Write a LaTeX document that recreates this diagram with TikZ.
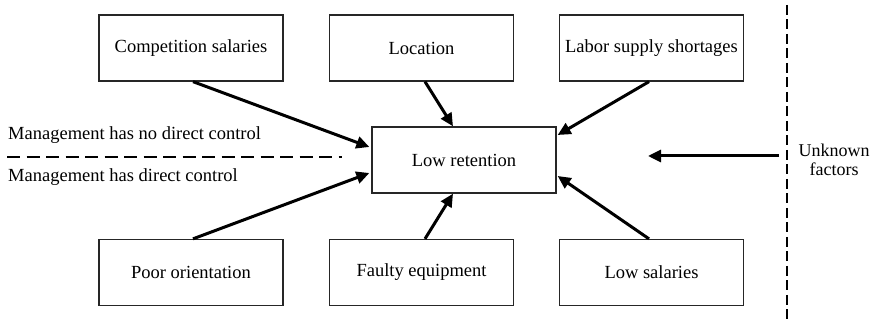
\documentclass[tikz,border=0pt]{standalone}
\usepackage{fontspec}
\setmainfont{Liberation Serif}
\usetikzlibrary{arrows.meta,calc}
\begin{document}
\begin{tikzpicture}[x=1pt,y=1pt,
  factor/.style={draw=black!85,line width=1.3pt,minimum width=184pt,minimum height=66pt,inner sep=0pt,font=\fontsize{18.5}{22}\selectfont},
  lbl/.style={inner sep=0pt,font=\fontsize{18.5}{22}\selectfont},
  causearrow/.style={line width=3pt,-{Triangle[length=13pt,width=12pt]}},
  divider/.style={line width=2.8pt,dash pattern=on 13pt off 6.5pt}]
\useasboundingbox (0,0) rectangle (874,326);
\node[factor] (cs) at (191,278) {Competition salaries};
\node[factor] (loc) at (421.5,278) {Location};
\node[factor] (lab) at (651.5,278) {Labor supply shortages};
\node[factor] (lr) at (464,166) {Low retention};
\node[factor] (po) at (191,53.5) {Poor orientation};
\node[factor] (fe) at (421.5,53.5) {Faulty equipment};
\node[factor] (ls) at (651.5,53.5) {Low salaries};
\draw[causearrow] ($(cs.south)+(2,0)$) -- ($(lr.west)+(-2,13)$);
\draw[causearrow] ($(loc.south)+(3.5,0)$) -- ($(lr.north)+(-11,0)$);
\draw[causearrow] ($(lab.south)+(-2.5,0)$) -- ($(lr.east)+(1,25)$);
\draw[causearrow] ($(po.north)+(2,0)$) -- ($(lr.west)+(-2,-13)$);
\draw[causearrow] ($(fe.north)+(3.5,0)$) -- ($(lr.south)+(-11,0)$);
\draw[causearrow] ($(ls.north)+(-2.5,0)$) -- ($(lr.east)+(1,-16)$);
\coordinate (hl) at (7,169);
\coordinate (hr) at (342,169);
\draw[divider] (hl) -- (hr);
\node[lbl,anchor=base west] (nodc) at (8,186) {Management has no direct control};
\node[lbl,anchor=base west] (dc) at (8,144) {Management has direct control};
\coordinate (vt) at (787,321);
\coordinate (vb) at (787,4);
\draw[line width=2.8pt,dash pattern=on 10pt off 4.5pt] (vt) -- (vb);
\node[lbl,align=center,font=\fontsize{18}{19.5}\selectfont] (uf) at (834,166) {Unknown\\factors};
\coordinate (us) at (779,170);
\coordinate (ue) at (648,170);
\draw[causearrow] (us) -- (ue);
\end{tikzpicture}
\end{document}
